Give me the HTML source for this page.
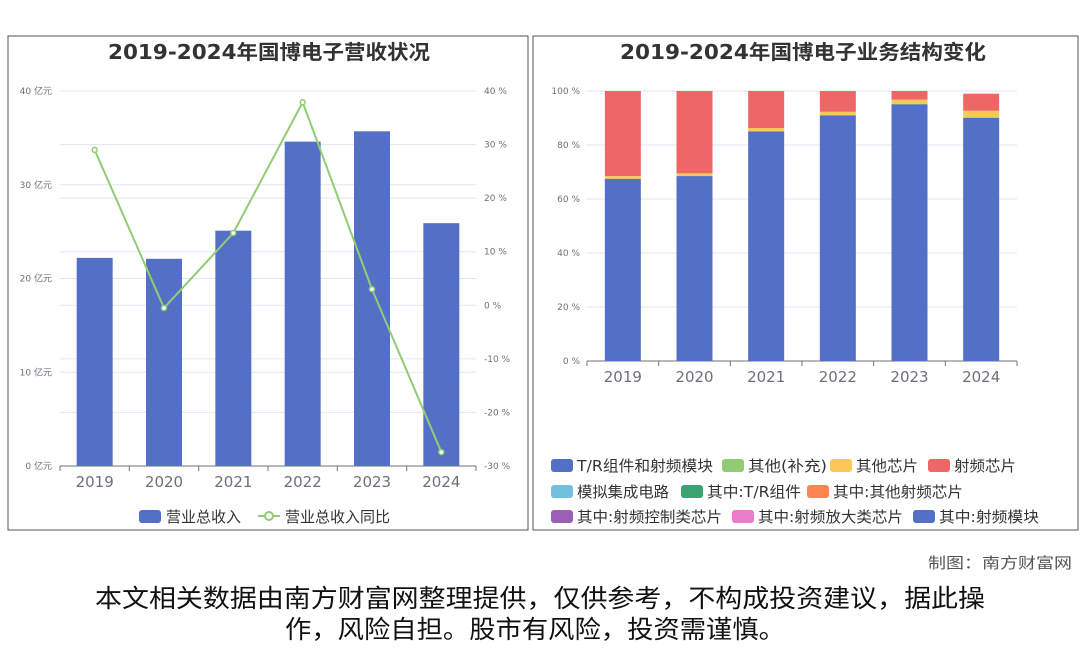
<!DOCTYPE html>
<html><head><meta charset="utf-8"><style>
body{margin:0;background:#fff;width:1080px;height:646px;overflow:hidden;font-family:"DejaVu Sans","Noto Sans CJK SC",sans-serif}
svg text{font-family:"DejaVu Sans","Noto Sans CJK SC",sans-serif}
</style></head><body>
<svg id="s" width="1080" height="646">
<rect x="8" y="36" width="520" height="494" fill="none" stroke="#555"/>
<rect x="533" y="36" width="545" height="494" fill="none" stroke="#555"/>
<text x="108" y="59" textLength="322" lengthAdjust="spacingAndGlyphs" font-size="20" font-weight="bold" fill="#333">2019-2024年国博电子营收状况</text>
<text x="620" y="59" textLength="366" lengthAdjust="spacingAndGlyphs" font-size="20" font-weight="bold" fill="#333">2019-2024年国博电子业务结构变化</text>
<g id="L"></g><g id="R"></g>
<g>
<rect x="139" y="510" width="22" height="13" rx="3" fill="#5470c6"/>
<text x="166" y="522" font-size="15" fill="#333">营业总收入</text>
<line x1="258" y1="516" x2="280" y2="516" stroke="#91cc75" stroke-width="2"/>
<circle cx="269" cy="516" r="4" fill="#fff" stroke="#91cc75" stroke-width="2"/>
<text x="285" y="522" font-size="15" fill="#333">营业总收入同比</text>
</g>
<g id="leg2"></g>
<text x="928" y="568" textLength="144" lengthAdjust="spacingAndGlyphs" font-size="15" fill="#555">制图：南方财富网</text>
<text x="95" y="607" textLength="890" lengthAdjust="spacingAndGlyphs" font-size="25" fill="#111">本文相关数据由南方财富网整理提供，仅供参考，不构成投资建议，据此操</text>
<text x="285" y="638" textLength="500" lengthAdjust="spacingAndGlyphs" font-size="25" fill="#111">作，风险自担。股市有风险，投资需谨慎。</text>
</svg>
<script>
const NS="http://www.w3.org/2000/svg";
function mk(p,t,a,txt){const e=document.createElementNS(NS,t);for(const k in a)e.setAttribute(k,a[k]);if(txt!==undefined)e.textContent=txt;p.appendChild(e);return e;}
const years=["2019","2020","2021","2022","2023","2024"];
const revenue=[22.2,22.1,25.1,34.6,35.7,25.9];
const yoy=[29.0,-0.5,13.5,37.9,3.0,-27.4];
const leftTicks=[0,10,20,30,40];
const rightTicks=[-30,-20,-10,0,10,20,30,40];
const trModule=[67.5,68.5,85,91,95,90];
const otherSupp=[0,0,0,0,0.3,0.3];
const otherChip=[1,1,1.3,1.3,1.5,2.4];
const rfChip=[31.5,30.5,13.7,7.7,3.2,6.3];
const pctTicks=[0,20,40,60,80,100];

const L=document.getElementById('L');
const x0=60,x1=476,yT=91,yB=466,bw=(x1-x0)/years.length;
const yl=v=>yB-(v-0)/40*(yB-yT), yr=v=>yB-(v+30)/70*(yB-yT);
leftTicks.forEach(v=>{let g=mk(L,'line',{x1:x0,x2:x1,y1:yl(v),y2:yl(v),stroke:'#e0e6f1'});

let t=mk(L,'text',{x:52,y:yl(v)+3,'text-anchor':'end','font-size':9,fill:'#6e7079'},v+' 亿元');
});
rightTicks.forEach(v=>{let g=mk(L,'line',{x1:x0,x2:x1,y1:yr(v),y2:yr(v),stroke:'#e0e6f1'});

let t=mk(L,'text',{x:484,y:yr(v)+3,'font-size':9,fill:'#6e7079'},v+' %');
});
mk(L,'line',{x1:x0,x2:x1,y1:yB,y2:yB,stroke:'#6e7079'});
years.forEach((y,i)=>{const cx=x0+bw*(i+0.5);
let b=mk(L,'rect',{x:cx-18,y:yl(revenue[i]),width:36,height:yB-yl(revenue[i]),fill:'#5470c6'});

mk(L,'line',{x1:x0+bw*i,x2:x0+bw*i,y1:yB,y2:yB+5,stroke:'#6e7079'});
let t=mk(L,'text',{x:cx,y:487,'text-anchor':'middle','font-size':15,fill:'#6e7079'},y);
});
mk(L,'line',{x1:x1,x2:x1,y1:yB,y2:yB+5,stroke:'#6e7079'});
let pl=mk(L,'polyline',{points:yoy.map((v,i)=>(x0+bw*(i+0.5))+','+yr(v)).join(' '),fill:'none',stroke:'#91cc75','stroke-width':2});

yoy.forEach((v,i)=>{let c=mk(L,'circle',{cx:x0+bw*(i+0.5),cy:yr(v),r:2.5,fill:'#fff',stroke:'#91cc75','stroke-width':1.5});
});

const R=document.getElementById('R');
const rx0=587,rx1=1017,rT=91,rB=361,rw=(rx1-rx0)/years.length;
const yp=v=>rB-v/100*(rB-rT);
pctTicks.forEach(v=>{let g=mk(R,'line',{x1:rx0,x2:rx1,y1:yp(v),y2:yp(v),stroke:'#e0e6f1'});

let t=mk(R,'text',{x:580,y:yp(v)+3,'text-anchor':'end','font-size':9,fill:'#6e7079'},v+' %');
});
mk(R,'line',{x1:rx0,x2:rx1,y1:rB,y2:rB,stroke:'#6e7079'});
const series=[[trModule,'#5470c6','tr-module'],[otherSupp,'#91cc75','other-supp'],[otherChip,'#fac858','other-chip'],[rfChip,'#ee6666','rf-chip']];
years.forEach((y,i)=>{const cx=rx0+rw*(i+0.5);let acc=0;
series.forEach(s=>{const v=s[0][i];if(v>0){let b=mk(R,'rect',{x:cx-18,y:yp(acc+v),width:36,height:yp(acc)-yp(acc+v),fill:s[1]});
}acc+=v;});
mk(R,'line',{x1:rx0+rw*i,x2:rx0+rw*i,y1:rB,y2:rB+5,stroke:'#6e7079'});
let t=mk(R,'text',{x:cx,y:382,'text-anchor':'middle','font-size':15,fill:'#6e7079'},y);
});
mk(R,'line',{x1:rx1,x2:rx1,y1:rB,y2:rB+5,stroke:'#6e7079'});

const lg=document.getElementById('leg2');
const items=[[551,466,'#5470c6','T/R组件和射频模块',136],[722,466,'#91cc75','其他(补充)',79],[830,466,'#fac858','其他芯片',62],[928,466,'#ee6666','射频芯片',62],
[551,492,'#73c0de','模拟集成电路',92],[681,492,'#3ba272','其中:T/R组件',94],[807,492,'#fc8452','其中:其他射频芯片',130],
[551,517,'#9a60b4','其中:射频控制类芯片',145],[732,517,'#ea7ccc','其中:射频放大类芯片',145],[913,517,'#5470c6','其中:射频模块',100]];
items.forEach(it=>{let r=mk(lg,'rect',{x:it[0],y:it[1]-7,width:22,height:13,rx:3,fill:it[2]});

let t=mk(lg,'text',{x:it[0]+26,y:it[1]+5,'font-size':15,fill:'#333',textLength:it[4],lengthAdjust:'spacingAndGlyphs'},it[3]);
});
</script>
</body></html>
